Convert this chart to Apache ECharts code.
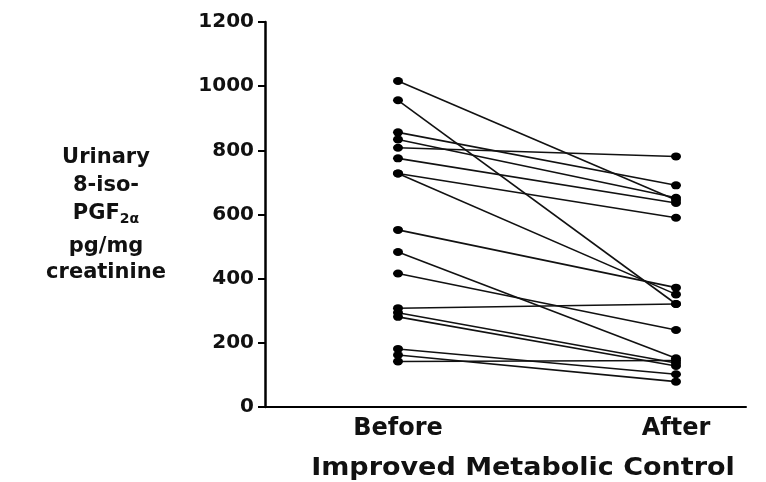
<!DOCTYPE html>
<html>
<head>
<meta charset="utf-8">
<script src="https://cdn.jsdelivr.net/npm/echarts@6/dist/echarts.min.js"></script>
<style>
  html, body { margin: 0; padding: 0; background: #fff; }
  #chart { width: 766px; height: 482px; }
</style>
</head>
<body>
<div id="chart"></div>
<script>
// Paired urinary 8-iso-PGF2α values, one entry per subject
const groups = ['Before', 'After'];
const beforeVals = [1016, 956, 856, 834, 808, 775, 728, 728, 552, 483, 416, 308, 294, 281, 181, 162, 142];
const afterVals  = [645, 321, 691, 652, 781, 636, 590, 351, 372, 152, 240, 321, 137, 128, 102, 79, 145];
const yTicks = [0, 200, 400, 600, 800, 1000, 1200];

const FONT = '"DejaVu Sans", Verdana, sans-serif';

const series = beforeVals.map((b, i) => ({
  type: 'line',
  data: [[1, b], [2, afterVals[i]]],
  symbol: 'circle',
  symbolSize: [10, 8],
  showSymbol: true,
  silent: true,
  animation: false,
  lineStyle: { color: '#111', width: 1.6 },
  itemStyle: { color: '#000' }
}));

// Left-hand axis title, one text element per line
const yTitleLines = [
  { y: 158, text: '{t|Urinary}' },
  { y: 186, text: '{t|8-iso-}' },
  { y: 214, text: '{t|PGF}{s|2α}' },
  { y: 247, text: '{t|pg/mg}' },
  { y: 273, text: '{t|creatinine}' }
];
const titleRich = {
  t: { font: 'bold 21px ' + FONT, fill: '#111' },
  s: { font: 'bold 14px ' + FONT, fill: '#111', padding: [10, 0, 0, 0] }
};

const chart = echarts.init(document.getElementById('chart'), null, { renderer: 'canvas' });
chart.setOption({
  backgroundColor: '#fff',
  animation: false,
  grid: { left: 265, right: 20, top: 22, bottom: 75, containLabel: false },
  xAxis: {
    type: 'value',
    min: 0.5216,
    max: 2.2518,
    splitLine: { show: false },
    axisLine: { show: true, onZero: false, lineStyle: { color: '#000', width: 2 } },
    axisTick: { show: false },
    axisLabel: {
      customValues: [1, 2],
      formatter: v => groups[Math.round(v) - 1] || '',
      color: '#111', fontFamily: FONT, fontWeight: 'bold', fontSize: 24, margin: 10
    }
  },
  yAxis: {
    type: 'value',
    min: yTicks[0],
    max: yTicks[yTicks.length - 1],
    interval: 200,
    splitLine: { show: false },
    axisLine: { show: true, lineStyle: { color: '#000', width: 2.5 } },
    axisTick: { show: true, length: 7, lineStyle: { color: '#000', width: 2 } },
    axisLabel: {
      formatter: v => String(v),
      color: '#111', fontFamily: FONT, fontWeight: 'bold', fontSize: 20, margin: 11
    }
  },
  graphic: [
    {
      type: 'text', x: 523, y: 468, scaleX: 1.08,
      style: {
        text: 'Improved Metabolic Control', fill: '#111', font: 'bold 25px ' + FONT,
        align: 'center', verticalAlign: 'middle'
      }
    }
  ].concat(yTitleLines.map(l => ({
    type: 'text', x: 106, y: l.y,
    style: { text: l.text, rich: titleRich, align: 'center', verticalAlign: 'middle', fill: '#111' }
  }))),
  series
});
</script>
</body>
</html>
